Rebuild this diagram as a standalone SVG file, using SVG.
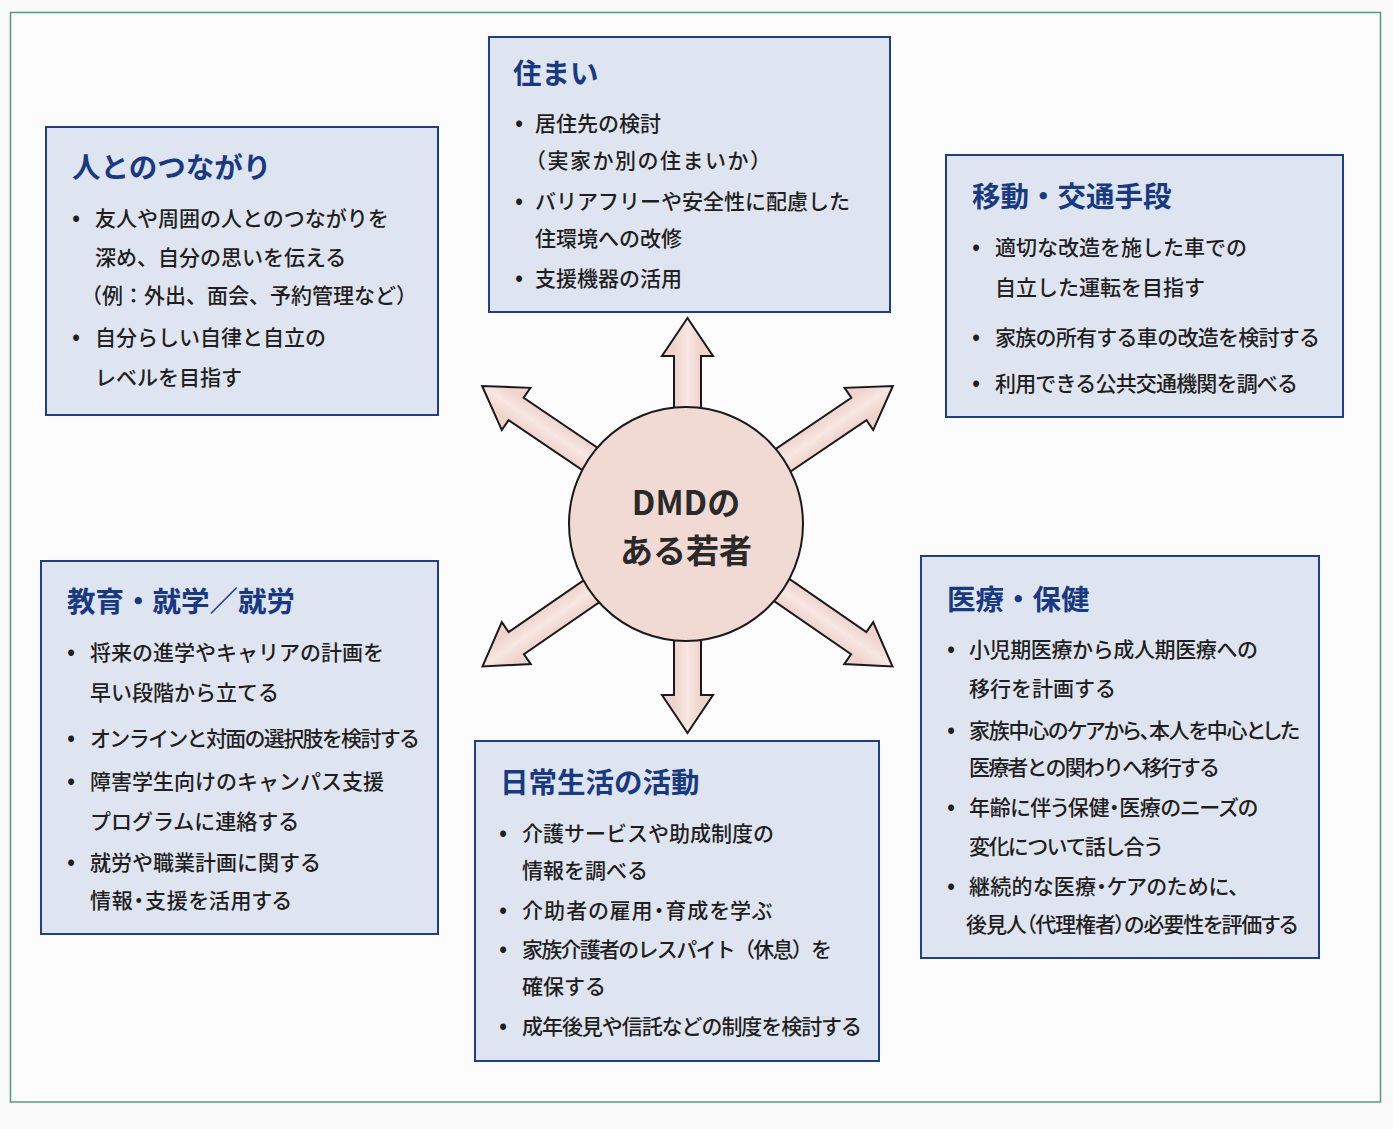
<svg xmlns="http://www.w3.org/2000/svg" width="1393" height="1129" viewBox="0 0 1393 1129">
<style>
text{font-family:"Noto Sans CJK JP","Noto Sans",sans-serif}
.t{font-size:21px;fill:#1f1f1f;font-weight:500}
.p{font-feature-settings:"palt"}
.b{font-size:24px;fill:#1f1f1f;text-anchor:middle}
.h{font-size:28.5px;font-weight:700;fill:#183a82}
.box{fill:#dfe5f0;stroke:#1e3f8b;stroke-width:2}
.arr{fill:url(#ag);stroke:#1a1a1a;stroke-width:2;stroke-linejoin:miter}
.c{font-size:33px;font-weight:700;fill:#2a2a2a;text-anchor:middle}
</style>
<defs>
<linearGradient id="ag" gradientUnits="userSpaceOnUse" x1="0" y1="-13.5" x2="0" y2="13.5">
<stop offset="0" stop-color="#efd3cc"/>
<stop offset="0.5" stop-color="#f8e7e3"/>
<stop offset="1" stop-color="#efd3cc"/>
</linearGradient>
</defs>
<rect x="0" y="0" width="1393" height="1129" fill="#f9f9f9"/>
<rect x="10.5" y="12.5" width="1370" height="1089.5" fill="#fcfcfc" stroke="#4f9d7e" stroke-width="1.5"/>

<g id="connectors">
<path class="arr" transform="translate(687.5,525) rotate(-90)" d="M0,-13.5 H169 V-25.5 L207,0 L169,25.5 V13.5 H0 Z"/>
<path class="arr" transform="translate(687.5,525) rotate(90)" d="M0,-13.5 H170 V-25.5 L208,0 L170,25.5 V13.5 H0 Z"/>
<path class="arr" transform="translate(687.5,525) rotate(-145.9)" d="M0,-13.5 H207 V-25.5 L248,0 L207,25.5 V13.5 H0 Z"/>
<path class="arr" transform="translate(687.5,525) rotate(-34.1)" d="M0,-13.5 H207 V-25.5 L248,0 L207,25.5 V13.5 H0 Z"/>
<path class="arr" transform="translate(687.5,525) rotate(145.4)" d="M0,-13.5 H208 V-25.5 L249,0 L208,25.5 V13.5 H0 Z"/>
<path class="arr" transform="translate(687.5,525) rotate(34.6)" d="M0,-13.5 H208 V-25.5 L249,0 L208,25.5 V13.5 H0 Z"/>
</g>

<g id="center">
<circle cx="686" cy="524" r="117" fill="#f2dad4" stroke="#1a1a1a" stroke-width="2"/>
<text class="c"><tspan x="686" y="515">DMDの</tspan><tspan x="686" y="563">ある若者</tspan></text>
</g>

<g id="node-tsunagari">
<rect class="box" x="46" y="127" width="392" height="288"/>
<text class="h" x="72" y="178">人とのつながり</text>
<text class="b" x="76" y="226">•</text>
<text class="t" x="95" y="226">友人や周囲の人とのつながりを</text>
<text class="t" x="95" y="265">深め、自分の思いを伝える</text>
<text class="t" x="81" y="303">（例：外出、面会、予約管理など）</text>
<text class="b" x="76" y="345">•</text>
<text class="t" x="95" y="345">自分らしい自律と自立の</text>
<text class="t" x="95" y="385">レベルを目指す</text>
</g>

<g id="node-sumai">
<rect class="box" x="489" y="37" width="401" height="275"/>
<text class="h" x="513" y="84">住まい</text>
<text class="b" x="519" y="131">•</text>
<text class="t" x="535" y="131">居住先の検討</text>
<text class="t" x="525" y="168" textLength="246" lengthAdjust="spacing">（実家か別の住まいか）</text>
<text class="b" x="519" y="209">•</text>
<text class="t" x="535" y="209">バリアフリーや安全性に配慮した</text>
<text class="t" x="535" y="246">住環境への改修</text>
<text class="b" x="519" y="286">•</text>
<text class="t" x="535" y="286">支援機器の活用</text>
</g>

<g id="node-idou">
<rect class="box" x="946" y="155" width="397" height="262"/>
<text class="h" x="972" y="207">移動・交通手段</text>
<text class="b" x="976" y="255">•</text>
<text class="t" x="995" y="255">適切な改造を施した車での</text>
<text class="t" x="995" y="295">自立した運転を目指す</text>
<text class="b" x="976" y="345">•</text>
<text class="t" x="995" y="345" textLength="325" lengthAdjust="spacing">家族の所有する車の改造を検討する</text>
<text class="b" x="976" y="391">•</text>
<text class="t" x="995" y="391" textLength="303" lengthAdjust="spacing">利用できる公共交通機関を調べる</text>
</g>

<g id="node-kyouiku">
<rect class="box" x="41" y="561" width="397" height="373"/>
<text class="h" x="67" y="612">教育・就学／就労</text>
<text class="b" x="71" y="660">•</text>
<text class="t" x="90" y="660">将来の進学やキャリアの計画を</text>
<text class="t" x="90" y="700">早い段階から立てる</text>
<text class="b" x="71" y="746">•</text>
<text class="t" x="90" y="746" textLength="330" lengthAdjust="spacing">オンラインと対面の選択肢を検討する</text>
<text class="b" x="71" y="789">•</text>
<text class="t" x="90" y="789">障害学生向けのキャンパス支援</text>
<text class="t" x="90" y="829">プログラムに連絡する</text>
<text class="b" x="71" y="870">•</text>
<text class="t" x="90" y="870">就労や職業計画に関する</text>
<text class="t p" x="90" y="908" textLength="201" lengthAdjust="spacing">情報・支援を活用する</text>
</g>

<g id="node-nichijou">
<rect class="box" x="475" y="741" width="404" height="320"/>
<text class="h" x="500" y="793">日常生活の活動</text>
<text class="b" x="503" y="841">•</text>
<text class="t" x="522" y="841">介護サービスや助成制度の</text>
<text class="t" x="522" y="878">情報を調べる</text>
<text class="b" x="503" y="918">•</text>
<text class="t p" x="522" y="918" textLength="250" lengthAdjust="spacing">介助者の雇用・育成を学ぶ</text>
<text class="b" x="503" y="957">•</text>
<text class="t" x="522" y="957" textLength="310" lengthAdjust="spacing">家族介護者のレスパイト（休息）を</text>
<text class="t" x="522" y="994">確保する</text>
<text class="b" x="503" y="1034">•</text>
<text class="t" x="522" y="1034" textLength="340" lengthAdjust="spacing">成年後見や信託などの制度を検討する</text>
</g>

<g id="node-iryou">
<rect class="box" x="921" y="556" width="398" height="402"/>
<text class="h" x="947" y="610">医療・保健</text>
<text class="b" x="951" y="657">•</text>
<text class="t" x="969" y="657" textLength="289" lengthAdjust="spacing">小児期医療から成人期医療への</text>
<text class="t" x="969" y="696">移行を計画する</text>
<text class="b" x="951" y="738">•</text>
<text class="t p" x="969" y="738" textLength="331" lengthAdjust="spacing">家族中心のケアから、本人を中心とした</text>
<text class="t" x="969" y="775" textLength="251" lengthAdjust="spacing">医療者との関わりへ移行する</text>
<text class="b" x="951" y="815">•</text>
<text class="t p" x="969" y="815" textLength="289" lengthAdjust="spacing">年齢に伴う保健・医療のニーズの</text>
<text class="t" x="969" y="854" textLength="195" lengthAdjust="spacing">変化について話し合う</text>
<text class="b" x="951" y="894">•</text>
<text class="t p" x="969" y="894" textLength="270" lengthAdjust="spacing">継続的な医療・ケアのために、</text>
<text class="t p" x="966" y="932" textLength="332" lengthAdjust="spacing">後見人（代理権者）の必要性を評価する</text>
</g>
</svg>
